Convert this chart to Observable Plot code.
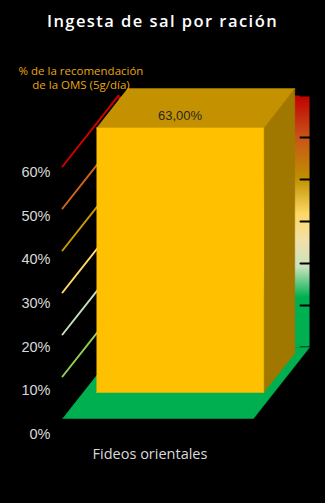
<!DOCTYPE html>
<html><head><meta charset="utf-8">
<script src="https://cdn.jsdelivr.net/npm/d3@7"></script>
<script src="https://cdn.jsdelivr.net/npm/@observablehq/plot@0.6"></script>
<style>
html,body{margin:0;padding:0;background:#000;}
#wrap{position:relative;width:325px;height:503px;overflow:hidden;background:#000;}
#chart{position:absolute;left:0;top:0;}
#title{position:absolute;left:0;top:9px;width:325px;text-align:center;color:#fff;font:600 16.5px/23px "Open Sans";letter-spacing:1.45px;white-space:nowrap;}
#sub{position:absolute;left:0;top:64px;width:162px;text-align:center;color:#E8A70F;font:400 11.5px/14px "Open Sans";white-space:nowrap;}
</style></head><body>
<div id="wrap"><div id="chart"></div>
<div id="title">Ingesta de sal por ración</div>
<div id="sub">% de la recomendación<br>de la OMS (5g/día)</div></div>
<script>
// ---- data ----
const categories = ["Fideos orientales"];
const values = [63];
const valueLabels = ["63,00%"];
const tickValues = [0, 10, 20, 30, 40, 50, 60];
const tickLabels = ["0%", "10%", "20%", "30%", "40%", "50%", "60%"];
const gridLevels = [10, 20, 30, 40, 50, 60];

// ---- styling ----
const gridPalette = ["#92D050", "#C5E0B4", "#FFD966", "#C99A00", "#D0661A", "#D00000"];
const wallStops = [
  [0.00, "#C00000"], [0.17, "#C8561A"], [0.33, "#BF9000"], [0.47, "#FFD966"],
  [0.58, "#F0E0AC"], [0.68, "#C9E3BE"], [0.80, "#00B050"], [1.00, "#00B050"]
];
const DEPTH_X = 0.2932;   // x-units per unit of depth
const DEPTH_Y = 16.9;     // value-units per unit of depth
const BAR_GAP = 0.0707, BAR_FRONT = 0.366, BAR_BACK = 0.92;
const LABEL_PERSPECTIVE = 1.0405, LABEL_DROP = 3.8; // axis labels sit on a nearer plane
const axisMax = 60;

const P = (u, v, w) => ({x: u + w * DEPTH_X, y: v + w * DEPTH_Y});
const poly = pts => pts.map(([u, v, w]) => P(u, v, w));
const n = categories.length;

const marks = [];
// back wall
marks.push(Plot.line(poly([[0,0,1],[n,0,1],[n,axisMax,1],[0,axisMax,1]]),
  {x: "x", y: "y", fill: "url(#wallGrad)", stroke: "none"}));
// back wall gridlines (black, dashed)
tickValues.forEach(t => marks.push(Plot.line(poly([[0,t,1],[n,t,1]]),
  {x: "x", y: "y", stroke: "#000", strokeWidth: 2, strokeDasharray: "9 8", strokeDashoffset: 5})));
// left wall gridlines (colored)
gridLevels.forEach((t, i) => marks.push(Plot.line(poly([[0,t,0],[0,t,1]]),
  {x: "x", y: "y", stroke: gridPalette[i], strokeWidth: 2})));
// floor
marks.push(Plot.line(poly([[0,0,0],[n,0,0],[n,0,1],[0,0,1]]),
  {x: "x", y: "y", fill: "#00B050", stroke: "#00B050", strokeWidth: 0.5}));
// bars
values.forEach((v, i) => {
  const u0 = i + BAR_GAP, u1 = i + 1 - BAR_GAP * 0.76;
  marks.push(Plot.line(poly([[u1,0,BAR_FRONT],[u1,0,BAR_BACK],[u1,v,BAR_BACK],[u1,v,BAR_FRONT]]),
    {x: "x", y: "y", fill: "#A07800", stroke: "#A07800", strokeWidth: 0.5}));
  marks.push(Plot.line(poly([[u0,v,BAR_FRONT],[u1,v,BAR_FRONT],[u1,v,BAR_BACK],[u0,v,BAR_BACK]]),
    {x: "x", y: "y", fill: "#C49200", stroke: "#C49200", strokeWidth: 0.5}));
  marks.push(Plot.line(poly([[u0,0,BAR_FRONT],[u1,0,BAR_FRONT],[u1,v,BAR_FRONT],[u0,v,BAR_FRONT]]),
    {x: "x", y: "y", fill: "#FFC000", stroke: "#FFC000", strokeWidth: 0.5}));
});
// value labels
const labelData = values.map((v, i) => ({...P(i + 0.508, v, BAR_FRONT), t: valueLabels[i]}));
marks.push(Plot.text(labelData, {x: "x", y: "y", text: "t", dy: -12, fill: "#262626",
  fontSize: 13, fontFamily: "Liberation Sans"}));
// y tick labels
marks.push(Plot.text(tickValues, {x: () => 0, y: d => d * LABEL_PERSPECTIVE - LABEL_DROP,
  text: (d, i) => tickLabels[i],
  textAnchor: "end", dx: -12, fill: "#D9D9D9", fontSize: 14.5, fontFamily: "Liberation Sans"}));
// category labels
marks.push(Plot.text(categories, {x: (d, i) => i + 0.5, y: () => 0, text: d => d,
  dx: -8, dy: 36, fill: "#D9D9D9", fontSize: 14.5, fontFamily: "Open Sans"}));

const chart = Plot.plot({
  width: 325, height: 503,
  marginLeft: 62, marginRight: 72, marginTop: 166, marginBottom: 85,
  x: {domain: [0, n], axis: null},
  y: {domain: [0, axisMax], axis: null},
  style: {background: "transparent", overflow: "visible"},
  marks
});
// gradient definition
const ns = "http://www.w3.org/2000/svg";
const defs = document.createElementNS(ns, "defs");
const grad = document.createElementNS(ns, "linearGradient");
grad.setAttribute("id", "wallGrad");
grad.setAttribute("x1", "0"); grad.setAttribute("y1", "0");
grad.setAttribute("x2", "0"); grad.setAttribute("y2", "1");
wallStops.forEach(([o, c]) => {
  const s = document.createElementNS(ns, "stop");
  s.setAttribute("offset", o); s.setAttribute("stop-color", c);
  grad.appendChild(s);
});
defs.appendChild(grad);
chart.insertBefore(defs, chart.firstChild);
document.getElementById("chart").appendChild(chart);
</script>
</body></html>
